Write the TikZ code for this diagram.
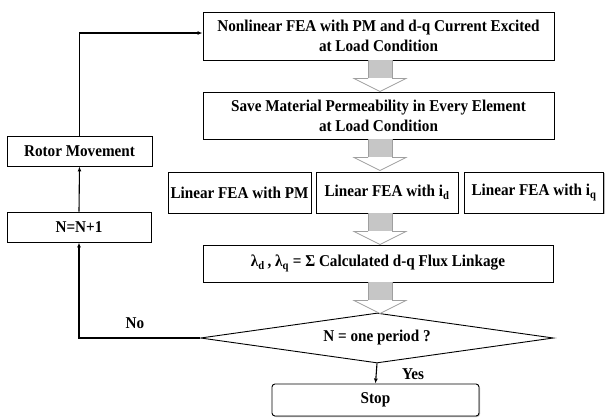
\documentclass[tikz,border=0pt]{standalone}
\usepackage{fontspec}
\setmainfont[FakeStretch=0.92]{Liberation Serif}
\usetikzlibrary{arrows.meta,shapes.geometric,calc,shadows}
\begin{document}
\begin{tikzpicture}[x=1pt,y=-1pt,
  every node/.style={font=\bfseries\fontsize{16.5}{20}\selectfont},
  box/.style={draw,line width=0.9pt,fill=white,align=center,inner sep=1pt,
    drop shadow={shadow xshift=1pt,shadow yshift=-1pt,fill=gray!55,opacity=1}},
  dec/.style={draw,line width=0.9pt,diamond,aspect=7,fill=white,inner sep=0pt,align=center},
  conn/.style={line width=1.1pt,-{Latex[length=5pt,width=4pt]}},
  lbl/.style={inner sep=1pt},
  harrow/.pic={
    \fill[gray!45] (-12,0) rectangle (12,18);
    \draw[gray!75,line width=0.8pt,fill=white] (-12,18) -- (-26,18) -- (0,31) -- (26,18) -- (12,18);
    \draw[gray!75,line width=0.8pt] (-12,0) -- (-12,18) (12,0) -- (12,18);
  }]
\useasboundingbox (0,0) rectangle (606,418);

\node[box,minimum width=351,minimum height=48] (top) at (378.5,36)
  {Nonlinear FEA with PM and d-q Current Excited\\at Load Condition};
\node[box,minimum width=351,minimum height=47] (save) at (378.5,115.5)
  {Save Material Permeability in Every Element\\at Load Condition};
\node[box,minimum width=143,minimum height=41] (lin1) at (239.5,192.5) {Linear FEA with PM};
\node[box,minimum width=142,minimum height=41] (lin2) at (387,192.5) {Linear FEA with i\textsubscript{d}};
\node[box,minimum width=139,minimum height=41] (lin3) at (534,192.5) {Linear FEA with i\textsubscript{q}};
\node[box,minimum width=350,minimum height=37] (lam) at (378,263.5)
  {λ\textsubscript{d}\,, λ\textsubscript{q} = Σ Calculated d-q Flux Linkage};
\node[dec,minimum width=353,minimum height=50] (dec) at (377,338) {N = one period ?};
\node[box,rounded corners=3pt,minimum width=207,minimum height=32] (stop) at (375.5,400) {Stop};
\node[box,minimum width=145,minimum height=30] (rotor) at (79.5,151) {Rotor Movement};
\node[box,minimum width=144,minimum height=30] (inc) at (79,227) {N=N+1};

\pic at ($(top.south)+(1.5,0)$) {harrow};
\pic at ($(save.south)+(1.5,0)$) {harrow};
\pic at ($(lin2.south -| top.south)+(1.5,0)$) {harrow};
\pic at ($(lam.south)+(2,0)$) {harrow};

\draw[conn] (dec.south) -- (stop.north);
\node[lbl] (yes) at (413,374) {Yes};
\draw[conn] (dec.west) -| (inc.south);
\node[lbl] (no) at (135,323) {No};
\draw[conn] (inc.north) -- (rotor.south);
\draw[conn] (rotor.north) |- ($(top.west)+(0,-3)$);
\end{tikzpicture}
\end{document}
